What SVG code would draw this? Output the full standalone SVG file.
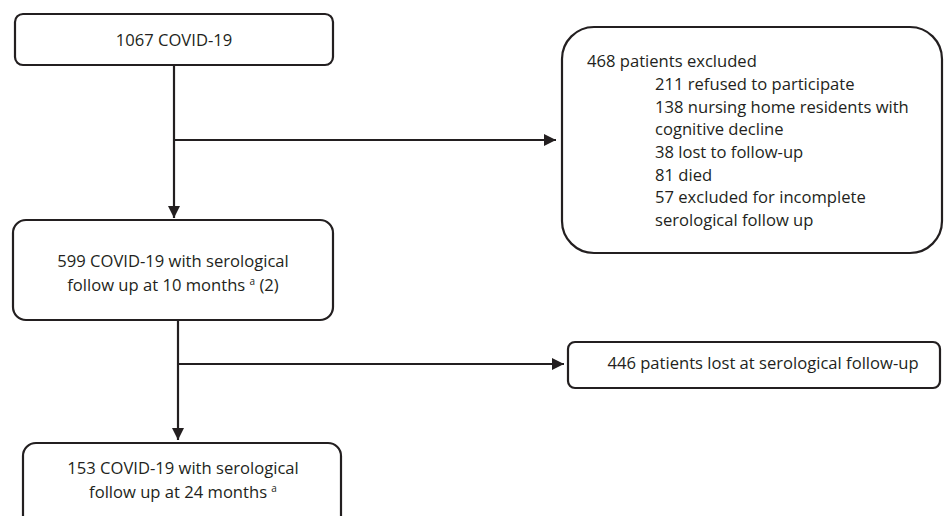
<svg xmlns="http://www.w3.org/2000/svg" width="944" height="516" viewBox="0 0 944 516">
<style>
.box{fill:#fff;stroke:#231f20;stroke-width:2.2}
.t{font-family:"Open Sans","Liberation Sans",sans-serif;font-size:16.6px;fill:#231f20}
.c{text-anchor:middle}
.ln{stroke:#231f20;stroke-width:2.2;fill:none;marker-end:url(#ah)}
</style>
<defs>
<marker id="ah" viewBox="0 0 10 10" refX="10" refY="5" markerWidth="5.5" markerHeight="5.5" orient="auto" markerUnits="strokeWidth">
<path d="M0,0 L10,5 L0,10 z" fill="#231f20"/>
</marker>
</defs>
<g id="connectors">
<line class="ln" x1="174" y1="65" x2="174" y2="218"/>
<line class="ln" x1="174" y1="140" x2="556" y2="140"/>
<line class="ln" x1="178" y1="320" x2="178" y2="440"/>
<line class="ln" x1="178" y1="364" x2="564" y2="364"/>
</g>
<g id="n1">
<rect class="box" x="15" y="14" width="318" height="51" rx="8"/>
<text class="t c" x="174" y="46">1067 COVID-19</text>
</g>
<g id="n2">
<rect class="box" x="562" y="27" width="380" height="226" rx="32"/>
<text class="t" x="587" y="67">468 patients excluded</text>
<text class="t" x="655" y="90">211 refused to participate</text>
<text class="t" x="655" y="113">138 nursing home residents with</text>
<text class="t" x="655" y="135">cognitive decline</text>
<text class="t" x="655" y="158">38 lost to follow-up</text>
<text class="t" x="655" y="181">81 died</text>
<text class="t" x="655" y="203">57 excluded for incomplete</text>
<text class="t" x="655" y="226">serological follow up</text>
</g>
<g id="n3">
<rect class="box" x="13" y="220" width="320" height="100" rx="13"/>
<text class="t c" x="173" y="267">599 COVID-19 with serological</text>
<text class="t c" x="173" y="291">follow up at 10 months <tspan font-size="10" dy="-6">a</tspan><tspan dy="6"> (2)</tspan></text>
</g>
<g id="n4">
<rect class="box" x="568" y="342" width="372" height="46" rx="7"/>
<text class="t c" x="763" y="369">446 patients lost at serological follow-up</text>
</g>
<g id="n5">
<rect class="box" x="23" y="443" width="318" height="90" rx="13"/>
<text class="t c" x="183" y="474">153 COVID-19 with serological</text>
<text class="t c" x="183" y="498">follow up at 24 months <tspan font-size="10" dy="-6">a</tspan></text>
</g>
</svg>
